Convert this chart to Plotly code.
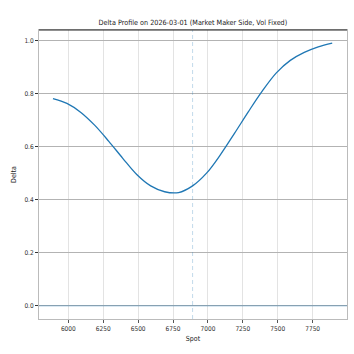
import plotly.graph_objects as go

spot_values = [5890, 5990, 6090, 6190, 6290, 6390, 6490, 6590, 6690, 6790, 6890,
               6990, 7090, 7190, 7290, 7390, 7490, 7590, 7690, 7790, 7890]
delta_values = [0.781, 0.763, 0.729, 0.680, 0.620, 0.556, 0.495, 0.452, 0.430, 0.427, 0.452,
                0.500, 0.570, 0.650, 0.732, 0.810, 0.878, 0.925, 0.955, 0.976, 0.990]
current_spot = 6890
x_ticks = [6000, 6250, 6500, 6750, 7000, 7250, 7500, 7750]
y_ticks = [0.0, 0.2, 0.4, 0.6, 0.8, 1.0]

title_text = "Delta Profile on 2026-03-01 (Market Maker Side, Vol Fixed)"
font_family = "Liberation Sans Narrow, DejaVu Sans Condensed, Liberation Sans, sans-serif"

fig = go.Figure()
fig.add_trace(go.Scatter(x=spot_values, y=delta_values, mode="lines",
                         line=dict(color="#1f77b4", width=1.3, shape="spline", smoothing=1.0),
                         showlegend=False, hoverinfo="skip"))

fig.add_hline(y=0, line=dict(color="rgba(31,119,180,0.45)", width=1))
fig.add_vline(x=current_spot, line=dict(color="rgba(31,119,180,0.35)", width=0.8, dash="4px,3px"))
# top spine drawn dark
fig.add_shape(type="line", xref="paper", yref="paper", x0=0, x1=1, y0=1, y1=1,
              line=dict(color="#222222", width=1.2))

fig.update_layout(
    width=354, height=354,
    margin=dict(l=39, r=7, t=30, b=35),
    paper_bgcolor="white", plot_bgcolor="white",
    font=dict(family=font_family, size=7, color="#333333"),
    title=dict(text=title_text, x=0.545, xanchor="center", y=0.937, yanchor="middle",
               font=dict(family=font_family, size=7.2, color="#222222")),
    xaxis=dict(range=[5790, 7996], tickvals=x_ticks, ticktext=[str(v) for v in x_ticks],
               showgrid=True, gridcolor="#e3e3e3", gridwidth=1,
               showline=True, linecolor="#bbbbbb", linewidth=1, mirror=True,
               ticks="outside", ticklen=3, tickcolor="#555555",
               title=dict(text="Spot", standoff=4, font=dict(size=7, color="#222222")),
               zeroline=False, tickfont=dict(size=6.5)),
    yaxis=dict(range=[-0.0495, 1.0395], tickvals=y_ticks, ticktext=[f"{v:.1f}" for v in y_ticks],
               showgrid=True, gridcolor="#b3b3b3", gridwidth=1,
               showline=True, linecolor="#bbbbbb", linewidth=1, mirror=True,
               ticks="outside", ticklen=3, tickcolor="#333333",
               title=dict(text="Delta", standoff=6, font=dict(size=7, color="#222222")),
               zeroline=False, tickfont=dict(size=6.5)),
)

fig.write_html("out.html")
